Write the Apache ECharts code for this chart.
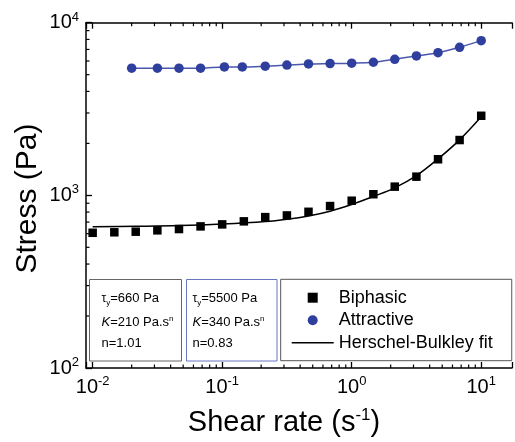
<!DOCTYPE html>
<html>
<head>
<meta charset="utf-8">
<script src="https://cdn.jsdelivr.net/npm/echarts@6/dist/echarts.min.js"></script>
<style>
html,body{margin:0;padding:0;background:#fff;}
#chart{width:515px;height:442px;}
</style>
</head>
<body>
<div id="chart"></div>
<script>
// ---- data ----
const biphasicX = [0.01, 0.0147, 0.0215, 0.0316, 0.0464, 0.0681, 0.1, 0.147, 0.215, 0.316, 0.464, 0.681, 1, 1.47, 2.15, 3.16, 4.64, 6.81, 10];
const biphasicY = [607, 611, 616, 627, 638, 661, 679, 707, 748, 765, 803, 867, 931, 1015, 1123, 1283, 1618, 2091, 2890];

const attractiveX = [0.02, 0.0316, 0.0464, 0.0681, 0.104, 0.143, 0.215, 0.316, 0.464, 0.681, 1, 1.47, 2.15, 3.16, 4.64, 6.81, 10];
const attractiveY = [5450, 5450, 5450, 5450, 5540, 5540, 5600, 5680, 5770, 5800, 5830, 5900, 6140, 6420, 6700, 7200, 7870];

const fitX = [0.01, 0.0215, 0.0464, 0.1, 0.215, 0.316, 0.464, 0.681, 1, 1.47, 2.15, 3.16, 4.64, 6.81, 10];
const fitY = [658, 662, 668, 682, 705, 727, 760, 810, 885, 985, 1105, 1300, 1625, 2095, 2850];

const xMinorTicks = [0.02,0.03,0.04,0.05,0.06,0.07,0.08,0.09, 0.2,0.3,0.4,0.5,0.6,0.7,0.8,0.9, 2,3,4,5,6,7,8,9];
const yMinorTicks = [200,300,400,500,600,700,800,900, 2000,3000,4000,5000,6000,7000,8000,9000];

const seriesNames = ['Biphasic', 'Attractive', 'Herschel-Bulkley fit'];
const box1Lines = ['{g|τ}{sub|y}{r|=660 Pa}', '{i|K}{r|=210 Pa.s}{sup|n}', '{r|n=1.01}'];
const box2Lines = ['{g|τ}{sub|y}{r|=5500 Pa}', '{i|K}{r|=340 Pa.s}{sup|n}', '{r|n=0.83}'];
const xTitle = '{t|Shear rate (s}{s|-1}{t|)}';
const yTitle = 'Stress (Pa)';

// ---- axis ranges ----
const X_MIN = Math.pow(10, -2.0514);
const X_MAX = Math.pow(10, 1.2377);
const Y_MIN = 100, Y_MAX = 10000;

const FONT = '"Liberation Sans", Arial, Helvetica, sans-serif';
const BLUE = '#2f3f9e';
const BLUE_LINE = '#4957ad';

function pairs(xs, ys){ return xs.map((x,i)=>[x, ys[i]]); }

function powLabel(v){
  const e = Math.log10(v);
  const r = Math.round(e);
  if (Math.abs(e - r) > 1e-6) return '';
  return '{b|10}{s|' + r + '}';
}
const labelRich = {
  b: {fontSize: 20, fontFamily: FONT, color: '#000', lineHeight: 24},
  s: {fontSize: 13, fontFamily: FONT, color: '#000', verticalAlign: 'top', lineHeight: 14}
};

const chart = echarts.init(document.getElementById('chart'), null, {renderer: 'canvas'});

function boxText(lines, color){
  const rich = {
    r: {fontSize: 13, fontFamily: FONT, color: color, lineHeight: 16},
    g: {fontSize: 12, fontFamily: FONT, color: color, lineHeight: 16},
    i: {fontSize: 13, fontFamily: FONT, color: color, fontStyle: 'italic', lineHeight: 16},
    sub: {fontSize: 8, fontFamily: FONT, color: color, verticalAlign: 'bottom'},
    sup: {fontSize: 8, fontFamily: FONT, color: color, verticalAlign: 'top'}
  };
  return lines.map(t => ({text: t, rich: rich}));
}

const b1 = boxText(box1Lines, '#111');
const b2 = boxText(box2Lines, '#3b4aa8');
const lineYs = [298.5, 322.5, 343.5];

const graphics = [
  {type: 'rect', z: 10, shape: {x: 89.5, y: 279.5, width: 92, height: 81.5}, style: {fill: '#fff', stroke: '#666', lineWidth: 1}},
  {type: 'rect', z: 10, shape: {x: 186.5, y: 279.5, width: 90.5, height: 81.5}, style: {fill: '#fff', stroke: '#6b74c0', lineWidth: 1}},
  {type: 'text', z: 20, x: 27.5, y: 198.5, rotation: Math.PI / 2,
    style: {text: yTitle, fontSize: 30, fontFamily: FONT, fill: '#000', align: 'center', verticalAlign: 'middle'}},
  {type: 'text', z: 20, x: 284, y: 423,
    style: {text: xTitle, align: 'center', verticalAlign: 'middle',
      rich: {t: {fontSize: 29, fontFamily: FONT, color: '#000', lineHeight: 32},
             s: {fontSize: 17, fontFamily: FONT, color: '#000', verticalAlign: 'top'}}}}
];
b1.forEach((t, i) => graphics.push({type: 'text', z: 20, x: 101.5, y: lineYs[i],
  style: {text: t.text, rich: t.rich, align: 'left', verticalAlign: 'middle'}}));
b2.forEach((t, i) => graphics.push({type: 'text', z: 20, x: 192.5, y: lineYs[i],
  style: {text: t.text, rich: t.rich, align: 'left', verticalAlign: 'middle'}}));

const option = {
  animation: false,
  backgroundColor: '#fff',
  grid: {left: 86, top: 22.7, right: 0, bottom: 74, containLabel: false},
  xAxis: [
    {type: 'log', logBase: 10, min: X_MIN, max: X_MAX, position: 'bottom',
      axisLine: {show: true, lineStyle: {color: '#000', width: 1.5}},
      axisTick: {show: true, inside: true, length: 6, lineStyle: {color: '#000', width: 1.3}},
      axisLabel: {show: true, margin: 7, formatter: powLabel, rich: labelRich, showMinLabel: true, showMaxLabel: true, hideOverlap: false},
      splitLine: {show: false}, minorTick: {show: false}},
    {type: 'log', logBase: 10, min: X_MIN, max: X_MAX, position: 'top',
      axisLine: {show: true, lineStyle: {color: '#000', width: 1.5}},
      axisTick: {show: true, inside: true, length: 6, lineStyle: {color: '#000', width: 1.3}},
      axisLabel: {show: false}, splitLine: {show: false}}
  ],
  yAxis: [
    {type: 'log', logBase: 10, min: Y_MIN, max: Y_MAX, position: 'left',
      axisLine: {show: true, lineStyle: {color: '#000', width: 1.5}},
      axisTick: {show: true, inside: true, length: 6, lineStyle: {color: '#000', width: 1.3}},
      axisLabel: {show: true, margin: 7, formatter: powLabel, rich: labelRich, hideOverlap: false},
      splitLine: {show: false}}
  ],
  legend: {
    orient: 'vertical', left: 280.7, top: 279.3,
    padding: [9.4, 19, 9, 11], itemGap: 4.5, itemWidth: 42, itemHeight: 10,
    borderColor: '#555', borderWidth: 1, backgroundColor: '#fff', borderRadius: 0,
    textStyle: {fontSize: 18, fontFamily: FONT, color: '#000'},
    selectedMode: false,
    data: [
      {name: seriesNames[0], icon: 'path://M0,0H10V10H0Z', itemStyle: {color: '#000', opacity: 1}},
      {name: seriesNames[1], icon: 'circle'},
      {name: seriesNames[2], icon: 'path://M0,0H42V1.4H0Z', itemStyle: {color: '#000'}}
    ]
  },
  graphic: graphics,
  series: [
    {name: seriesNames[2], type: 'line', data: pairs(fitX, fitY), smooth: 0.35, symbol: 'none',
      lineStyle: {color: '#000', width: 1.5}, itemStyle: {color: '#000'}, z: 3, silent: true},
    {name: seriesNames[0], type: 'scatter', data: pairs(biphasicX, biphasicY), symbol: 'rect', symbolSize: 8.5,
      itemStyle: {color: '#000', opacity: 1}, z: 4, silent: true},
    {name: seriesNames[1], type: 'line', data: pairs(attractiveX, attractiveY), smooth: 0.3,
      symbol: 'circle', symbolSize: 9.5, showSymbol: true, showAllSymbol: true,
      lineStyle: {color: BLUE_LINE, width: 1.5}, itemStyle: {color: BLUE, opacity: 1}, z: 4, silent: true},
    {type: 'custom', name: 'xMinor', silent: true, z: 2,
      data: xMinorTicks.map(v => [v, Y_MIN]),
      renderItem: function(params, api){
        const v = api.value(0);
        const pb = api.coord([v, Y_MIN]);
        const pt = api.coord([v, Y_MAX]);
        return {type: 'group', children: [
          {type: 'line', shape: {x1: pb[0], y1: pb[1], x2: pb[0], y2: pb[1] - 3.5}, style: {stroke: '#000', lineWidth: 1.2}},
          {type: 'line', shape: {x1: pt[0], y1: pt[1], x2: pt[0], y2: pt[1] + 3.5}, style: {stroke: '#000', lineWidth: 1.2}}
        ]};
      }},
    {type: 'custom', name: 'yMinor', silent: true, z: 2,
      data: yMinorTicks.map(v => [X_MIN, v]),
      renderItem: function(params, api){
        const v = api.value(1);
        const p = api.coord([X_MIN, v]);
        return {type: 'line', shape: {x1: p[0], y1: p[1], x2: p[0] + 3.5, y2: p[1]}, style: {stroke: '#000', lineWidth: 1.2}};
      }}
  ]
};
chart.setOption(option);
</script>
</body>
</html>
